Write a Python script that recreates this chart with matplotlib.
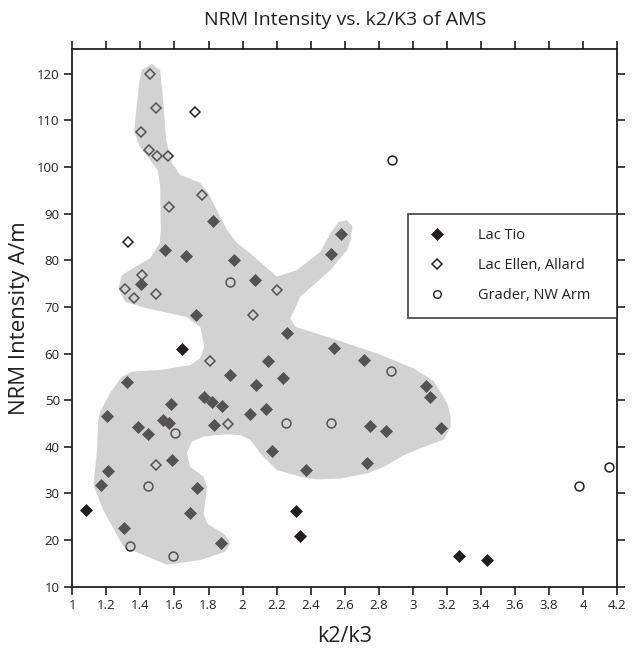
import matplotlib
matplotlib.use("Agg")
import matplotlib.pyplot as plt
from matplotlib.patches import Polygon
from matplotlib.lines import Line2D

plt.rcParams["font.family"] = ["Open Sans", "DejaVu Sans"]

# -----------------------------
# Data
# -----------------------------
tio_x = [1.826, 1.545, 1.667, 1.947, 2.073, 1.404, 1.724, 1.643, 1.924, 2.077,
         1.322, 1.775, 1.820, 1.882, 1.577, 2.045, 1.206, 1.535, 1.569, 1.386,
         1.830, 1.443, 1.586, 1.208, 1.171, 1.733, 1.081, 1.692, 1.304, 1.875,
         2.575, 2.518, 2.263, 2.535, 2.714, 2.147, 2.235, 3.079, 3.098, 2.138,
         2.749, 2.840, 3.163, 2.171, 2.371, 2.729, 2.312, 2.335, 3.271, 3.435]
tio_y = [88.4, 82.1, 81.0, 80.0, 75.8, 74.9, 68.3, 61.0, 55.3, 53.3,
         53.8, 50.6, 49.6, 48.7, 49.1, 47.0, 46.7, 45.7, 45.0, 44.2,
         44.6, 42.7, 37.2, 34.9, 31.9, 31.2, 26.4, 25.9, 22.5, 19.3,
         85.7, 81.3, 64.3, 61.1, 58.7, 58.3, 54.7, 53.1, 50.7, 48.1,
         44.5, 43.3, 44.0, 39.0, 35.1, 36.5, 26.2, 20.9, 16.5, 15.8]

ellen_x = [1.459, 1.494, 1.718, 1.404, 1.451, 1.500, 1.561, 1.759, 1.569, 1.330,
           1.412, 1.312, 1.363, 1.494, 2.063, 1.808, 1.914, 1.492, 2.204]
ellen_y = [120.0, 112.7, 111.8, 107.4, 103.6, 102.3, 102.3, 93.9, 91.5, 84.0,
           76.8, 73.9, 72.0, 72.8, 68.3, 58.3, 44.9, 36.1, 73.6]

grader_x = [1.928, 1.604, 1.447, 1.341, 1.590, 2.869, 2.257, 2.522, 2.879, 3.975, 4.149]
grader_y = [75.3, 42.9, 31.7, 18.8, 16.6, 56.3, 45.0, 45.0, 101.5, 31.7, 35.6]

# outline of the shaded field (data units)
field_x = [1.467, 1.516, 1.532, 1.551, 1.585, 1.634, 1.751, 1.798, 1.908, 1.967,
           2.045, 2.116, 2.202, 2.320, 2.457, 2.516, 2.563, 2.610, 2.645, 2.634,
           2.614, 2.516, 2.339, 2.281, 2.310, 2.496, 2.791, 3.006, 3.124, 3.202,
           3.222, 3.222, 3.182, 3.045, 2.947, 2.829, 2.732, 2.575, 2.438, 2.339,
           2.202, 2.104, 2.045, 1.986, 1.908, 1.771, 1.702, 1.673, 1.692, 1.771,
           1.791, 1.771, 1.791, 1.898, 1.928, 1.898, 1.751, 1.555, 1.300, 1.182,
           1.124, 1.144, 1.153, 1.163, 1.222, 1.291, 1.349, 1.516, 1.692, 1.751,
           1.775, 1.751, 1.673, 1.438, 1.310, 1.271, 1.291, 1.369, 1.457, 1.512,
           1.520, 1.516, 1.502, 1.398, 1.363, 1.392, 1.408]
field_y = [122.1, 120.8, 115.0, 105.8, 100.8, 98.3, 96.6, 94.4, 86.5, 83.7,
           81.5, 79.2, 76.5, 77.9, 81.8, 85.8, 88.2, 88.6, 87.3, 84.3,
           82.2, 77.9, 72.2, 67.5, 65.7, 63.6, 60.0, 56.8, 54.0, 49.3,
           46.4, 44.3, 41.6, 39.7, 38.2, 35.7, 34.3, 33.2, 33.0, 33.6,
           35.0, 38.6, 41.5, 42.5, 42.7, 42.2, 41.1, 38.6, 35.7, 33.6,
           31.4, 25.7, 23.6, 21.1, 19.3, 17.5, 15.7, 14.7, 18.6, 26.4,
           31.8, 38.6, 45.7, 47.5, 51.5, 55.0, 56.1, 56.5, 57.5, 59.0,
           61.5, 65.7, 67.8, 69.7, 71.1, 74.0, 76.8, 78.6, 80.4, 83.6,
           86.5, 95.8, 99.3, 104.3, 107.6, 117.9, 120.8]

x_ticks = [1, 1.2, 1.4, 1.6, 1.8, 2, 2.2, 2.4, 2.6, 2.8, 3, 3.2, 3.4, 3.6, 3.8, 4, 4.2]
x_tick_labels = ["1", "1.2", "1.4", "1.6", "1.8", "2", "2.2", "2.4", "2.6", "2.8",
                 "3", "3.2", "3.4", "3.6", "3.8", "4", "4.2"]
y_ticks = list(range(10, 121, 10))

BLACK = "#231f20"

# -----------------------------
# Plot
# -----------------------------
fig = plt.figure(figsize=(6.38, 6.54), dpi=100)
ax = fig.add_axes([0.1133, 0.1029, 0.8542, 0.8222])

ax.plot(tio_x, tio_y, linestyle="none", marker="D", ms=6.2,
        mfc=BLACK, mec=BLACK, mew=0.5, zorder=2)
ax.plot(ellen_x, ellen_y, linestyle="none", marker="D", ms=5.6,
        mfc="white", mec=BLACK, mew=1.1, zorder=2)
ax.plot(grader_x, grader_y, linestyle="none", marker="o", ms=6.4,
        mfc="white", mec=BLACK, mew=1.1, zorder=2)

# grey field laid over the points, like the original overprint
field = Polygon(list(zip(field_x, field_y)), closed=True, facecolor="#979797",
                edgecolor="none", alpha=0.43, joinstyle="round", zorder=3)
ax.add_patch(field)

ax.set_xlim(1, 4.2)
ax.set_ylim(10, 125.3)
ax.set_xticks(x_ticks)
ax.set_xticklabels(x_tick_labels)
ax.set_yticks(y_ticks)

for s in ax.spines.values():
    s.set_linewidth(1.3)
    s.set_color(BLACK)
ax.tick_params(direction="out", length=6, width=1.2, colors=BLACK,
               labelsize=9.5, top=True, right=True, labeltop=False, labelright=False,
               pad=3)

ax.set_title("NRM Intensity vs. k2/K3 of AMS", fontsize=14, color=BLACK, pad=17)
ax.set_xlabel("k2/k3", fontsize=15.5, color=BLACK, labelpad=10)
ax.set_ylabel("NRM Intensity A/m", fontsize=16, color=BLACK, labelpad=5)

handles = [
    Line2D([], [], linestyle="none", marker="D", ms=6.2, mfc=BLACK, mec=BLACK, mew=0.5),
    Line2D([], [], linestyle="none", marker="D", ms=5.6, mfc="white", mec=BLACK, mew=1.1),
    Line2D([], [], linestyle="none", marker="o", ms=5.5, mfc="white", mec=BLACK, mew=1.0),
]
leg = ax.legend(handles, ["Lac Tio", "Lac Ellen, Allard", "Grader, NW Arm"],
                loc="upper left", bbox_to_anchor=(0.6166, 0.693, 0.3834, 0.0),
                mode="expand", fontsize=10.5, frameon=True, fancybox=False,
                borderpad=0.98, labelspacing=1.03, handletextpad=1.8,
                borderaxespad=0, handlelength=2.0)
leg.get_frame().set_edgecolor(BLACK)
leg.get_frame().set_linewidth(1.3)
leg.set_zorder(5)
for t in leg.get_texts():
    t.set_color(BLACK)

plt.savefig("out.png", dpi=100)
